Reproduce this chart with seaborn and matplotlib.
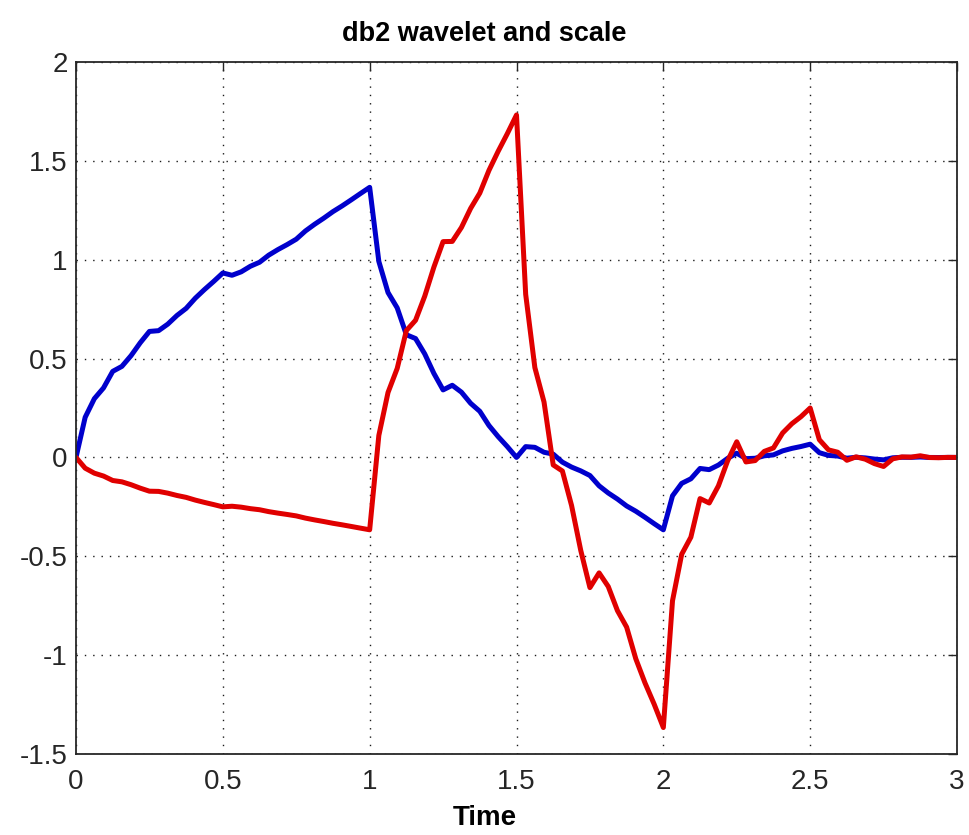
import numpy as np
import pandas as pd
import matplotlib
matplotlib.use("Agg")
import matplotlib.pyplot as plt
import seaborn as sns

# Sample grid (1/32 steps over the support [0, 3])
time = np.linspace(0.0, 3.0, 97)

# db2 scaling function (blue)
scaling_phi = [
    0.000000, 0.203050, 0.297286, 0.351693, 0.435257, 0.460508, 0.514914, 0.579994,
    0.637260, 0.641166, 0.674230, 0.717965, 0.753887, 0.805435, 0.849169, 0.890044,
    0.933013, 0.921294, 0.938732, 0.966843, 0.987141, 1.023062, 1.051173, 1.076423,
    1.103766, 1.145407, 1.179238, 1.210208, 1.243270, 1.272147, 1.303115, 1.334851,
    1.366025, 0.991176, 0.833954, 0.756390, 0.620512, 0.601262, 0.523698, 0.424791,
    0.341506, 0.364944, 0.330068, 0.273849, 0.233253, 0.161409, 0.105189, 0.054687,
    0.000000, 0.054688, 0.051061, 0.026092, 0.016746, -0.023849, -0.048818, -0.068069,
    -0.091506, -0.143540, -0.179948, -0.210638, -0.245513, -0.272016, -0.302704, -0.334925,
    -0.366025, -0.194225, -0.131240, -0.108082, -0.055769, -0.061769, -0.038611, -0.004783,
    0.021234, -0.006110, -0.004297, 0.008188, 0.012861, 0.033158, 0.045643, 0.055269,
    0.066987, 0.024018, 0.010206, 0.007066, -0.003886, 0.000786, -0.002354, -0.008353,
    -0.012260, -0.001868, 0.000711, 0.000431, 0.002244, -0.000130, -0.000411, 0.000075,
    0.000000,
]

# db2 wavelet function (red)
wavelet_psi = [
    0.000000, -0.054407, -0.079658, -0.094236, -0.116627, -0.123393, -0.137971, -0.155409,
    -0.170753, -0.171800, -0.180659, -0.192378, -0.202003, -0.215816, -0.227534, -0.238487,
    -0.250000, -0.246860, -0.251533, -0.259064, -0.264503, -0.274129, -0.281661, -0.288427,
    -0.295753, -0.306912, -0.315976, -0.324275, -0.333133, -0.340871, -0.349169, -0.357672,
    -0.366026, 0.111358, 0.328426, 0.450211, 0.641748, 0.693781, 0.815566, 0.962881,
    1.091506, 1.092478, 1.163203, 1.259457, 1.337020, 1.451965, 1.548218, 1.637630,
    1.732050, 0.825129, 0.454466, 0.280088, -0.037982, -0.068672, -0.243050, -0.470022,
    -0.658494, -0.583995, -0.653187, -0.774971, -0.858254, -1.018541, -1.140325, -1.248017,
    -1.366026, -0.724859, -0.489793, -0.403370, -0.208134, -0.230523, -0.144100, -0.017849,
    0.079247, -0.022801, -0.016035, 0.030558, 0.047996, 0.123748, 0.170344, 0.206265,
    0.250000, 0.089638, 0.038091, 0.026372, -0.014503, 0.002935, -0.008784, -0.031175,
    -0.045753, -0.006971, 0.002654, 0.001608, 0.008374, -0.000486, -0.001533, 0.000281,
    0.000000,
]

x_ticks = [0, 0.5, 1, 1.5, 2, 2.5, 3]
x_tick_labels = ["0", "0.5", "1", "1.5", "2", "2.5", "3"]
y_ticks = [-1.5, -1, -0.5, 0, 0.5, 1, 1.5, 2]
y_tick_labels = ["-1.5", "-1", "-0.5", "0", "0.5", "1", "1.5", "2"]

sns.set_theme(style="white")
plt.rcParams["font.family"] = ["Liberation Sans", "DejaVu Sans"]

df = pd.DataFrame({"Time": time, "phi": scaling_phi, "psi": wavelet_psi})

fig = plt.figure(figsize=(9.69, 8.35), dpi=100)
ax = fig.add_axes([76 / 969, 81 / 835, 881 / 969, 692 / 835])

sns.lineplot(data=df, x="Time", y="phi", color="#0000cc", linewidth=3.6, ax=ax)
sns.lineplot(data=df, x="Time", y="psi", color="#e00000", linewidth=3.6, ax=ax)

ax.set_xlim(0, 3)
ax.set_ylim(-1.5, 2)
ax.set_xticks(x_ticks, x_tick_labels)
ax.set_yticks(y_ticks, y_tick_labels)

ax.grid(True, color="0.1", linestyle=(0, (1, 5)), linewidth=1.0)
ax.tick_params(direction="in", length=6.5, width=1.0, top=True, right=True,
               labelsize=20, labelcolor="0.15", color="0.15")
ax.tick_params(axis="x", pad=11)
ax.tick_params(axis="y", pad=6)
for spine in ax.spines.values():
    spine.set_visible(True)
    spine.set_color("0.15")
    spine.set_linewidth(1.3)

# Title and axis label are centred on the figure rather than the axes
centre = (484.5 - 76) / 881
ax.set_xlabel("Time", fontsize=20, fontweight="bold", labelpad=7, color="black", x=centre)
ax.set_ylabel("")
ax.set_title("db2 wavelet and scale", fontsize=19.5, fontweight="bold", pad=15,
             color="black", x=centre)

fig.savefig("out.png", dpi=100, facecolor="white")
